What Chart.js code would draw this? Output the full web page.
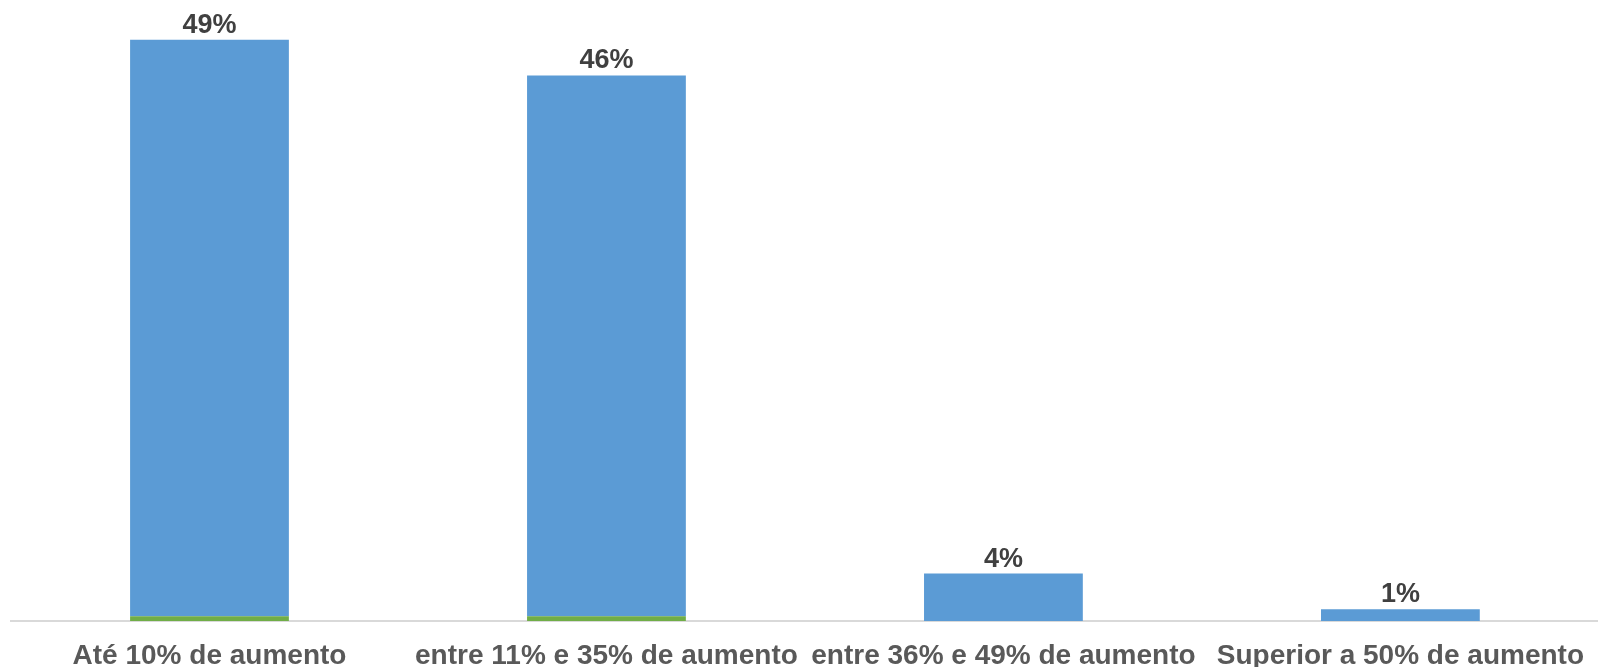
<!DOCTYPE html>
<html>
<head>
<meta charset="utf-8">
<script src="https://cdn.jsdelivr.net/npm/chart.js@4"></script>
<style>
html,body{margin:0;padding:0;background:#fff;overflow:hidden;}
#wrap{width:1598px;height:667px;overflow:hidden;}
</style>
</head>
<body>
<div id="wrap"><canvas id="c" width="1602" height="667"></canvas></div>
<script>
const categories = ["Até 10% de aumento", "entre 11% e 35% de aumento", "entre 36% e 49% de aumento", "Superior a 50% de aumento"];
const greenValues = [0.4, 0.4, 0, 0];
const blueValues = [48.6, 45.6, 4, 1];
const yMax = 50;

const topLabels = {
  id: 'topLabels',
  afterDatasetsDraw(chart) {
    const ctx = chart.ctx;
    const meta = chart.getDatasetMeta(1);
    ctx.save();
    ctx.font = 'bold 27px "Liberation Sans", Arial, sans-serif';
    ctx.fillStyle = '#404040';
    ctx.textAlign = 'center';
    ctx.textBaseline = 'alphabetic';
    meta.data.forEach((bar, i) => {
      const total = greenValues[i] + blueValues[i];
      ctx.fillText(Math.round(total) + '%', bar.x, bar.y - 7);
    });
    ctx.restore();
  }
};

new Chart(document.getElementById('c'), {
  type: 'bar',
  data: {
    labels: categories,
    datasets: [
      { label: 'g', data: greenValues, backgroundColor: '#70AD47', barPercentage: 0.4, categoryPercentage: 1.0 },
      { label: 'b', data: blueValues, backgroundColor: '#5B9BD5', barPercentage: 0.4, categoryPercentage: 1.0 }
    ]
  },
  options: {
    responsive: false,
    animation: false,
    devicePixelRatio: 1,
    layout: { padding: { left: 11, right: 0, top: 28, bottom: 0 } },
    plugins: { legend: { display: false }, tooltip: { enabled: false } },
    scales: {
      x: {
        stacked: true,
        grid: { display: false, drawTicks: false },
        border: { display: true, color: '#d9d9d9', width: 2 },
        ticks: {
          color: '#595959',
          font: { family: '"Liberation Sans", Arial, sans-serif', size: 28, weight: 'bold' },
          maxRotation: 0, minRotation: 0, autoSkip: false, padding: 18
        },
        afterFit(scale) { scale.height = 46; }
      },
      y: {
        stacked: true,
        display: false,
        min: 0,
        max: yMax
      }
    }
  },
  plugins: [topLabels]
});
</script>
</body>
</html>
